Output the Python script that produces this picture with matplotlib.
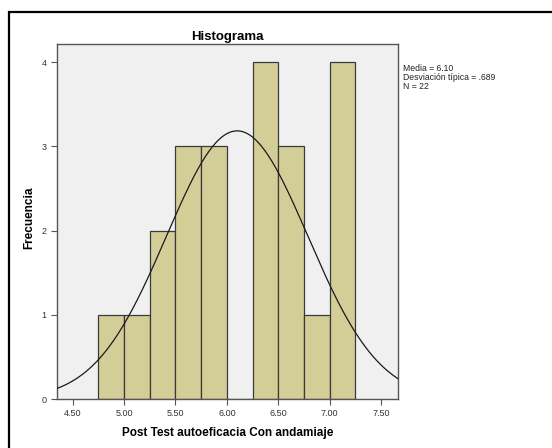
import numpy as np
import matplotlib.pyplot as plt
from matplotlib.patches import Rectangle

plt.rcParams['font.family'] = ['Liberation Sans', 'DejaVu Sans']

# frecuencias por intervalo (ancho 0.25)
bin_edges = [4.75, 5.00, 5.25, 5.50, 5.75, 6.00, 6.25, 6.50, 6.75, 7.00, 7.25]
counts = [1, 1, 2, 3, 3, 0, 4, 3, 1, 4]
media = 6.10
desv = 0.689
n = 22

x_ticks = [4.5, 5.0, 5.5, 6.0, 6.5, 7.0, 7.5]
y_ticks = [0, 1, 2, 3, 4]

fig = plt.figure(figsize=(5.52, 4.48), dpi=100)
W, H = 552, 448
ax = fig.add_axes([57 / W, 1 - 399 / H, (398 - 57) / W, (399 - 44) / H])
ax.set_facecolor('#f0f0f0')

# marco exterior
fig.patches.append(Rectangle((8.5 / W, -0.1), 1.0, 1 - 11.5 / H + 0.1,
                             transform=fig.transFigure, fill=False,
                             edgecolor='black', linewidth=1.6))

edges = np.array(bin_edges)
ax.bar(edges[:-1], counts, width=np.diff(edges), align='edge',
       color='#d3ce98', edgecolor='#3a3a3a', linewidth=0.9, zorder=2)

# curva normal escalada
xs = np.linspace(4.347, 7.665, 300)
bw = 0.25
ys = n * bw / (desv * np.sqrt(2 * np.pi)) * np.exp(-0.5 * ((xs - media) / desv) ** 2)
ax.plot(xs, ys, color='#1a1a1a', linewidth=0.9, zorder=3)

ax.set_xlim(4.347, 7.665)
ax.set_ylim(0, 4.216)
ax.set_xticks(x_ticks)
ax.set_xticklabels(['%.2f' % v for v in x_ticks])
ax.set_yticks(y_ticks)
ax.tick_params(axis='both', labelsize=6.5, colors='#555555', length=4, width=0.8)
ax.tick_params(axis='both', labelcolor='#333333')
for s in ax.spines.values():
    s.set_color('#555555')
    s.set_linewidth(1.0)

ax.set_title('Histograma', fontsize=9.5, fontweight='bold', pad=3)
ax.set_xlabel('Post Test autoeficacia Con andamiaje', fontsize=8.5, fontweight='bold', labelpad=6)
ax.set_ylabel('Frecuencia', fontsize=8.5, fontweight='bold')
ax.yaxis.set_label_coords(-0.063, 0.51)

fig.text(403 / W, 1 - 64 / H,
         'Media = %.2f\nDesviación típica = .%d\nN = %d' % (media, round(desv * 1000), n),
         fontsize=6.2, va='top', ha='left', linespacing=1.0, color='#222222')

fig.savefig('out.png', dpi=100)
